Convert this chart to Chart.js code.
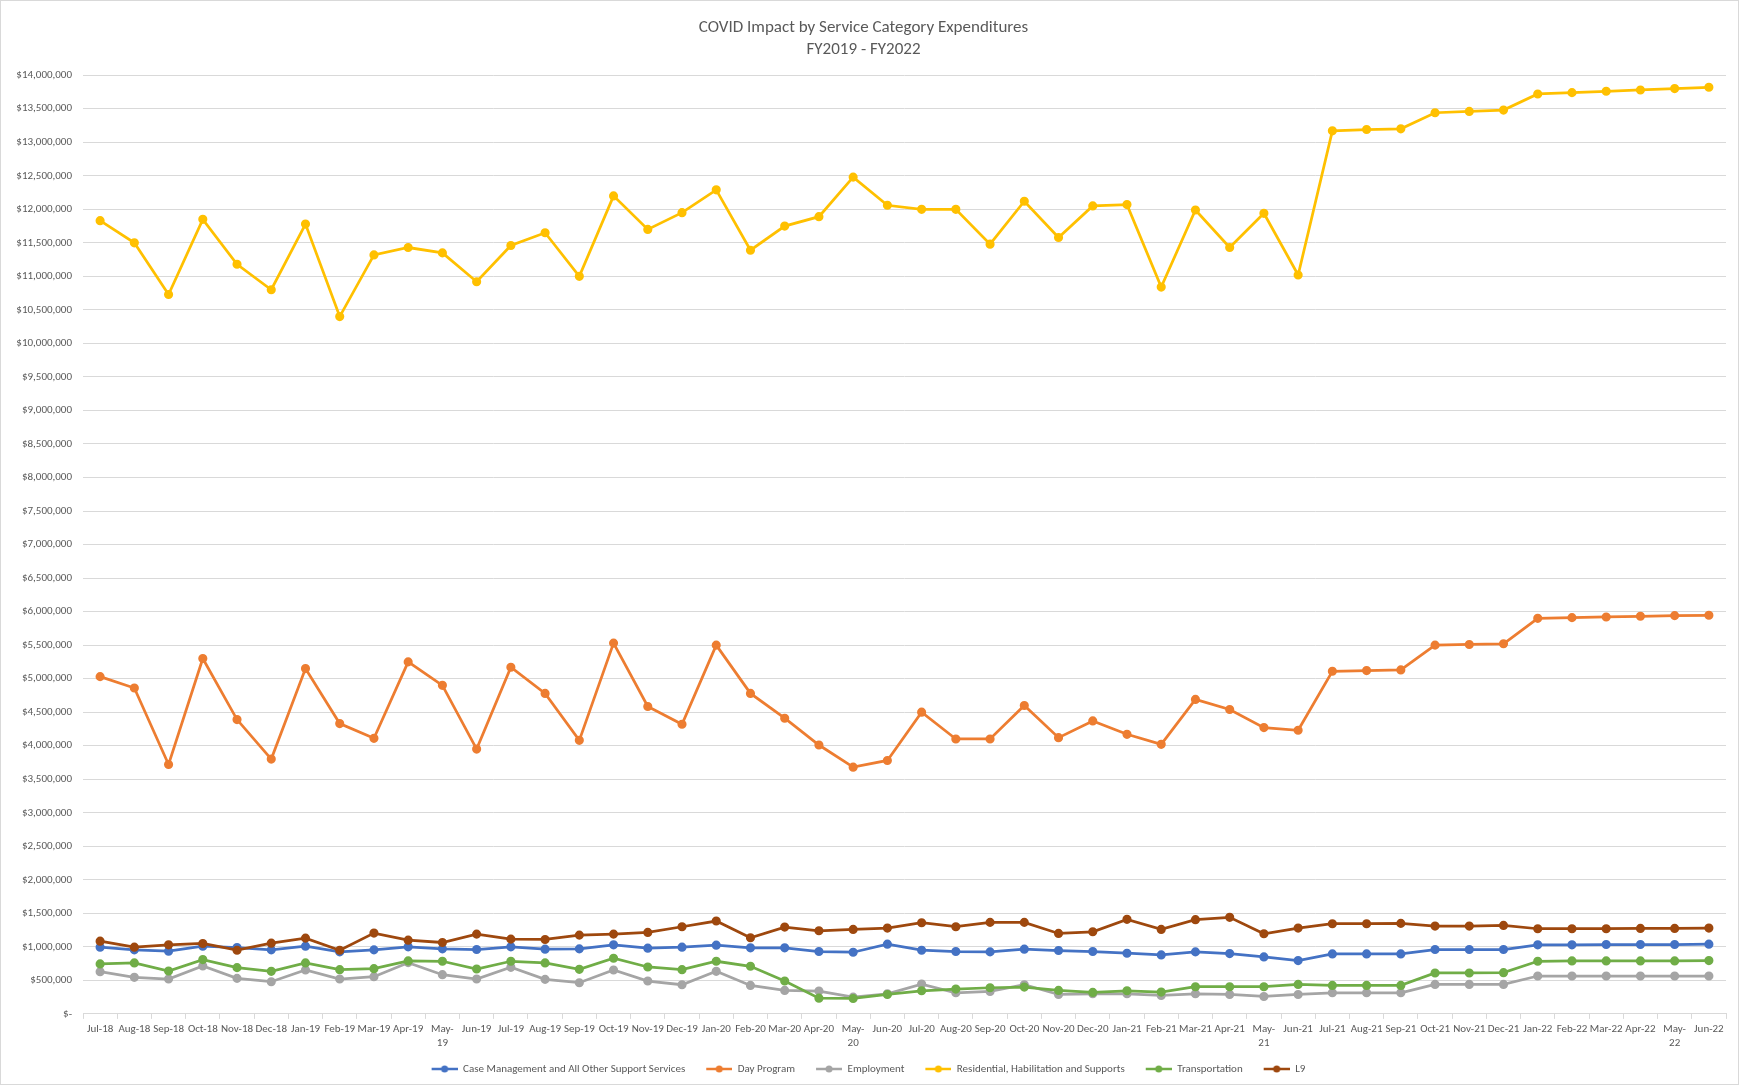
<!DOCTYPE html>
<html lang="en">
<head>
    <meta charset="UTF-8">
    <title>COVID Impact by Service Category Expenditures</title>
    <style>
        html, body { margin: 0; padding: 0; background: #fff; }
        .chart-container { width: 1739px; height: 1085px; box-sizing: border-box; border: 1px solid #d9d9d9; }
    </style>
</head>
<body>
    <div class="chart-container">
        <canvas id="covidChart"></canvas>
    </div>

    <script src="https://cdn.jsdelivr.net/npm/chart.js@4.4.1/dist/chart.umd.js"></script>

    <script>
        // months, Jul-18 .. Jun-22
        const months = [
            'Jul-18', 'Aug-18', 'Sep-18', 'Oct-18', 'Nov-18', 'Dec-18', 'Jan-19', 'Feb-19', 'Mar-19', 'Apr-19', 'May-19', 'Jun-19',
            'Jul-19', 'Aug-19', 'Sep-19', 'Oct-19', 'Nov-19', 'Dec-19', 'Jan-20', 'Feb-20', 'Mar-20', 'Apr-20', 'May-20', 'Jun-20',
            'Jul-20', 'Aug-20', 'Sep-20', 'Oct-20', 'Nov-20', 'Dec-20', 'Jan-21', 'Feb-21', 'Mar-21', 'Apr-21', 'May-21', 'Jun-21',
            'Jul-21', 'Aug-21', 'Sep-21', 'Oct-21', 'Nov-21', 'Dec-21', 'Jan-22', 'Feb-22', 'Mar-22', 'Apr-22', 'May-22', 'Jun-22'
        ];

        const caseManagement = [
            995000, 955000, 935000, 1010000, 990000, 955000, 1010000, 925000, 955000, 1000000, 970000, 960000,
            1000000, 965000, 970000, 1030000, 980000, 995000, 1025000, 985000, 985000, 930000, 920000, 1040000,
            950000, 930000, 925000, 965000, 945000, 930000, 905000, 880000, 925000, 900000, 850000, 795000,
            895000, 895000, 895000, 960000, 960000, 960000, 1030000, 1030000, 1035000, 1035000, 1035000, 1040000
        ];
        const dayProgram = [
            5030000, 4860000, 3720000, 5300000, 4390000, 3800000, 5150000, 4330000, 4110000, 5250000, 4900000, 3950000,
            5170000, 4780000, 4080000, 5530000, 4585000, 4320000, 5500000, 4780000, 4410000, 4010000, 3680000, 3780000,
            4500000, 4100000, 4100000, 4600000, 4120000, 4370000, 4170000, 4020000, 4690000, 4540000, 4270000, 4230000,
            5110000, 5120000, 5130000, 5500000, 5510000, 5520000, 5900000, 5910000, 5920000, 5930000, 5940000, 5945000
        ];
        const employment = [
            630000, 545000, 520000, 715000, 530000, 480000, 655000, 520000, 555000, 765000, 585000, 520000,
            695000, 515000, 465000, 655000, 490000, 435000, 635000, 425000, 350000, 340000, 250000, 300000,
            445000, 315000, 335000, 435000, 290000, 300000, 300000, 275000, 300000, 290000, 260000, 290000,
            315000, 315000, 315000, 440000, 440000, 440000, 565000, 565000, 565000, 565000, 565000, 565000
        ];
        const residential = [
            11830000, 11500000, 10730000, 11850000, 11180000, 10800000, 11780000, 10400000, 11320000, 11430000, 11350000, 10920000,
            11460000, 11650000, 11000000, 12200000, 11700000, 11950000, 12290000, 11390000, 11750000, 11890000, 12480000, 12060000,
            12000000, 12000000, 11480000, 12120000, 11580000, 12050000, 12070000, 10840000, 11990000, 11430000, 11940000, 11020000,
            13170000, 13190000, 13200000, 13440000, 13460000, 13480000, 13720000, 13740000, 13760000, 13780000, 13800000, 13820000
        ];
        const transportation = [
            745000, 760000, 640000, 810000, 690000, 635000, 760000, 660000, 675000, 790000, 785000, 670000,
            785000, 760000, 665000, 830000, 700000, 660000, 785000, 710000, 490000, 235000, 230000, 290000,
            345000, 370000, 390000, 400000, 350000, 320000, 345000, 325000, 405000, 405000, 405000, 440000,
            425000, 425000, 425000, 610000, 610000, 615000, 785000, 790000, 790000, 790000, 790000, 795000
        ];
        const l9 = [
            1085000, 995000, 1030000, 1050000, 950000, 1055000, 1130000, 950000, 1205000, 1100000, 1065000, 1190000,
            1115000, 1110000, 1175000, 1190000, 1215000, 1300000, 1385000, 1135000, 1295000, 1240000, 1260000, 1280000,
            1360000, 1300000, 1365000, 1365000, 1200000, 1225000, 1410000, 1260000, 1405000, 1440000, 1195000, 1280000,
            1345000, 1345000, 1350000, 1310000, 1310000, 1320000, 1270000, 1270000, 1270000, 1275000, 1275000, 1280000
        ];

        const seriesNames = [
            'Case Management and All Other Support Services', 'Day Program', 'Employment',
            'Residential, Habilitation and Supports', 'Transportation', 'L9'
        ];
        const seriesValues = [caseManagement, dayProgram, employment, residential, transportation, l9];
        const seriesColors = ['#4472C4', '#ED7D31', '#A5A5A5', '#FFC000', '#70AD47', '#9E480E'];

        const yMax = 14000000;
        const yStep = 500000;

        const FONT = 'Carlito, "Liberation Sans Narrow", "Liberation Sans", Arial, sans-serif';
        const TEXT = '#595959';
        const GRID = '#d9d9d9';

        // excel style legend key: short line with a dot, some blank room on the left
        function legendIcon(color) {
            const c = document.createElement('canvas');
            c.width = 36;
            c.height = 8;
            const g = c.getContext('2d');
            g.strokeStyle = color;
            g.lineWidth = 2.5;
            g.beginPath();
            g.moveTo(10, 4);
            g.lineTo(36, 4);
            g.stroke();
            g.fillStyle = color;
            g.beginPath();
            g.arc(23, 4, 3.5, 0, Math.PI * 2);
            g.fill();
            return c;
        }
        const legendIcons = seriesColors.map(legendIcon);

        function money(v) {
            if (v === 0) return '$-';
            return '$' + v.toLocaleString('en-US');
        }

        const datasets = seriesNames.map(function(name, i) {
            return {
                label: name,
                data: seriesValues[i],
                borderColor: seriesColors[i],
                backgroundColor: seriesColors[i],
                borderWidth: 2.75,
                pointRadius: 3.2,
                pointHoverRadius: 3.2,
                pointStyle: 'circle',
                tension: 0,
                // later series drawn on top, like excel
                order: seriesNames.length - i
            };
        });

        new Chart(document.getElementById('covidChart'), {
            type: 'line',
            data: { labels: months, datasets: datasets },
            options: {
                responsive: true,
                maintainAspectRatio: false,
                animation: false,
                layout: { padding: { left: 0, right: 12, top: 0, bottom: -0.5 } },
                plugins: {
                    title: {
                        display: true,
                        text: ['COVID Impact by Service Category Expenditures', 'FY2019 - FY2022'],
                        color: TEXT,
                        font: { family: FONT, size: 17, weight: 'normal', lineHeight: 1.3 },
                        padding: { top: 16, bottom: 14 }
                    },
                    legend: {
                        position: 'bottom',
                        labels: {
                            usePointStyle: true,
                            pointStyleWidth: 36,
                            color: TEXT,
                            padding: 11,
                            font: { family: FONT, size: 11 },
                            sort: function(a, b) { return a.datasetIndex - b.datasetIndex; },
                            generateLabels: function(chart) {
                                const items = Chart.defaults.plugins.legend.labels.generateLabels(chart);
                                items.forEach(function(it) { it.pointStyle = legendIcons[it.datasetIndex]; });
                                return items;
                            }
                        }
                    },
                    tooltip: { enabled: false }
                },
                scales: {
                    x: {
                        offset: true,
                        grid: { display: true, offset: true, drawOnChartArea: false, drawTicks: true, tickLength: 5, color: GRID },
                        border: { display: true, color: GRID },
                        ticks: {
                            autoSkip: false,
                            maxRotation: 0,
                            minRotation: 0,
                            padding: 3,
                            color: TEXT,
                            font: { family: FONT, size: 11, lineHeight: 1.3 },
                            callback: function(val) {
                                const l = this.getLabelForValue(val);
                                return l.indexOf('May') === 0 ? [l.slice(0, 4), l.slice(4)] : l;
                            }
                        },
                        afterFit: function(scale) { scale.height = scale.height - 1; }
                    },
                    y: {
                        min: 0,
                        max: yMax,
                        grid: { color: GRID, drawTicks: false },
                        border: { display: false },
                        ticks: {
                            stepSize: yStep,
                            padding: 11,
                            color: TEXT,
                            font: { family: FONT, size: 11 },
                            callback: function(v) { return money(v); }
                        },
                        afterFit: function(scale) { scale.width = 82; }
                    }
                }
            }
        });
    </script>
</body>
</html>
